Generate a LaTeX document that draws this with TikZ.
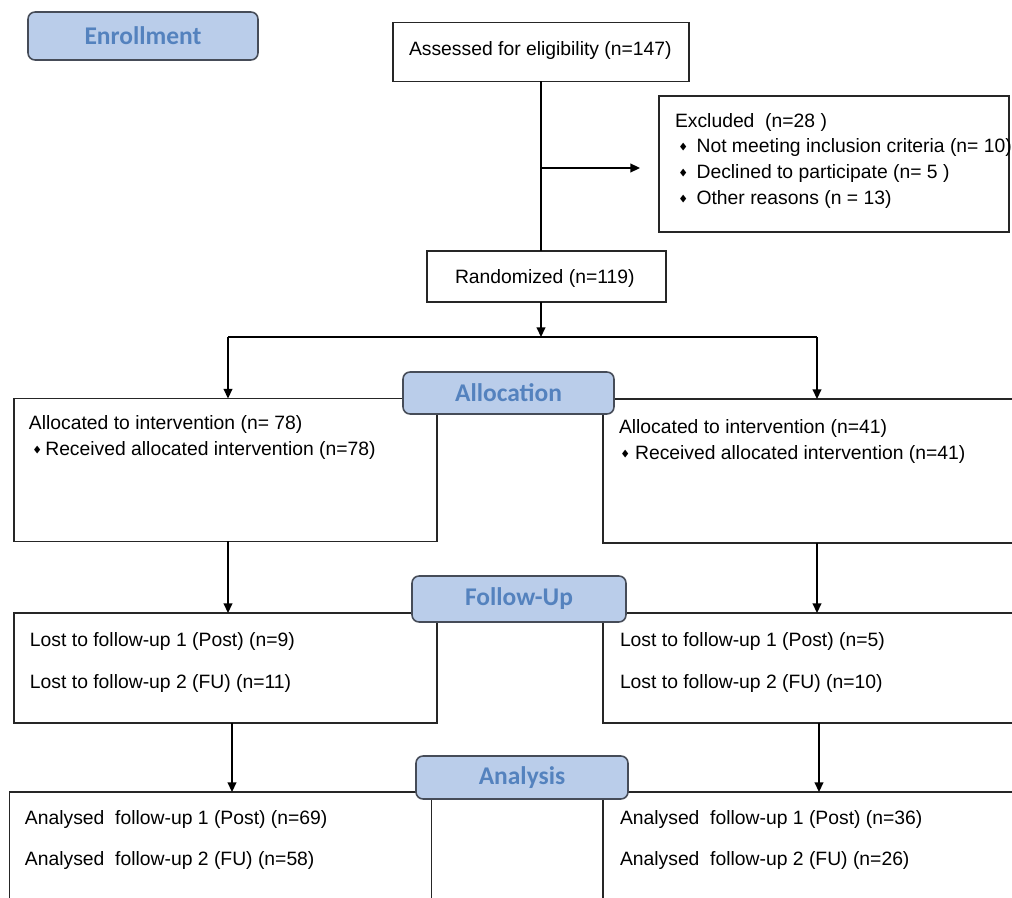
\documentclass[tikz,border=0pt]{standalone}
\usepackage{amssymb}
\usepackage{fontspec}
\setmainfont{Liberation Sans}
\newfontfamily\stagefont{Carlito}
\usepackage{tikz}
\usetikzlibrary{shapes,arrows.meta}

\definecolor{stagefill}{RGB}{186,205,234}
\definecolor{stagetext}{RGB}{84,130,190}
\definecolor{stageline}{RGB}{70,76,88}
\newcommand{\bul}{\raisebox{1.3pt}{\tiny$\blacklozenge$}}
\newcommand{\itm}[2]{\makebox[#1][l]{\bul}#2}

\begin{document}
\begin{tikzpicture}[x=0.02cm,y=-0.02cm,inner sep=0mm,outer sep=0mm,
  box/.style={rectangle,draw=black!85,line width=0.85pt},
  stage/.style={rectangle,rounded corners=4pt,draw=stageline,line width=0.9pt,fill=stagefill,text=stagetext,font=\stagefont\fontsize{14.5}{16}\selectfont\bfseries},
  txt/.style={anchor=west,yshift=-1.3pt,font=\fontsize{11}{13}\selectfont},
  link/.style={line width=0.85pt,-{Triangle[length=5.5pt,width=5pt]}}]
\useasboundingbox (0,0) rectangle (1012,898);
\clip (0,0) rectangle (1012,898);
%Node Coordinates
\node at (541,52) [box,minimum width=5.92cm,minimum height=1.18cm] (Assess) {};
\node at (834,164) [box,minimum width=7.0cm,minimum height=2.72cm] (Excluded) {};
\node at (546.5,276.5) [box,minimum width=4.78cm,minimum height=1.02cm] (Random) {};
\node at (225.5,470) [box,minimum width=8.46cm,minimum height=2.86cm] (AllocL) {};
\node at (822,471) [box,minimum width=8.76cm,minimum height=2.88cm] (AllocR) {};
\node at (225.5,668) [box,minimum width=8.46cm,minimum height=2.2cm] (FollowL) {};
\node at (822,668) [box,minimum width=8.76cm,minimum height=2.2cm] (FollowR) {};
\node at (220.5,860) [box,minimum width=8.44cm,minimum height=2.72cm] (AnalysisL) {};
\node at (822,860) [box,minimum width=8.76cm,minimum height=2.72cm] (AnalysisR) {};
\coordinate (ExclOut) at (541,168);
\coordinate (Split) at (541,337);
\coordinate (BranchL) at (228,337);
\coordinate (BranchR) at (817,337);
\coordinate (DropL) at (232,0);
\coordinate (DropR) at (819,0);

%Connections
\draw [line width=0.85pt] (Assess.south) -- (Assess.south |- Random.north);
\draw [link] (ExclOut) -- ([xshift=-0.38cm]Excluded.west |- ExclOut);
\draw [link] (Random.south -| Split) -- (Split);
\draw [line width=0.85pt] (BranchL) -- (BranchR);
\draw [link] (BranchL) -- (BranchL |- AllocL.north);
\draw [link] (BranchR) -- (BranchR |- AllocR.north);
\draw [link] (AllocL.south -| BranchL) -- (FollowL.north -| BranchL);
\draw [link] (AllocR.south -| BranchR) -- (FollowR.north -| BranchR);
\draw [link] (FollowL.south -| DropL) -- (AnalysisL.north -| DropL);
\draw [link] (FollowR.south -| DropR) -- (AnalysisR.north -| DropR);

%Stage Labels
\node at (143,36) [stage,minimum width=4.6cm,minimum height=0.96cm] (Enrollment) {Enrollment};
\node at (508.5,393) [stage,minimum width=4.22cm,minimum height=0.84cm] (Allocation) {Allocation};
\node at (519,599) [stage,minimum width=4.28cm,minimum height=0.92cm] (FollowUp) {Follow-Up};
\node at (522,777.5) [stage,minimum width=4.24cm,minimum height=0.86cm] (Analysis) {Analysis};

%Node Labels
\node [txt] at (409,48) (AssessTxt) {Assessed for eligibility (n=147)};
\node [txt] at (675,120) (ExclTxt1) {Excluded\ \ (n=28 )};
\node [txt] at (679,145) (ExclTxt2) {\itm{10pt}{Not meeting inclusion criteria (n= 10)}};
\node [txt] at (679,171) (ExclTxt3) {\itm{10pt}{Declined to participate (n= 5 )}};
\node [txt] at (679,197) (ExclTxt4) {\itm{10pt}{Other reasons (n = 13)}};
\node [txt] at (455,276) (RandomTxt) {Randomized (n=119)};
\node [txt] at (29,422) (AllocLTxt1) {Allocated to intervention (n= 78)};
\node [txt] at (33,448) (AllocLTxt2) {\itm{7pt}{Received allocated intervention (n=78)}};
\node [txt] at (619,426) (AllocRTxt1) {Allocated to intervention (n=41)};
\node [txt] at (621,452) (AllocRTxt2) {\itm{8pt}{Received allocated intervention (n=41)}};
\node [txt] at (30,639) (FollowLTxt1) {Lost to follow-up 1 (Post) (n=9)};
\node [txt] at (30,681) (FollowLTxt2) {Lost to follow-up 2 (FU) (n=11)};
\node [txt] at (620,639) (FollowRTxt1) {Lost to follow-up 1 (Post) (n=5)};
\node [txt] at (620,681) (FollowRTxt2) {Lost to follow-up 2 (FU) (n=10)};
\node [txt] at (25,817) (AnalysisLTxt1) {Analysed\ \ follow-up 1 (Post) (n=69)};
\node [txt] at (25,858) (AnalysisLTxt2) {Analysed\ \ follow-up 2 (FU) (n=58)};
\node [txt] at (620,817) (AnalysisRTxt1) {Analysed\ \ follow-up 1 (Post) (n=36)};
\node [txt] at (620,858) (AnalysisRTxt2) {Analysed\ \ follow-up 2 (FU) (n=26)};
\end{tikzpicture}
\end{document}
